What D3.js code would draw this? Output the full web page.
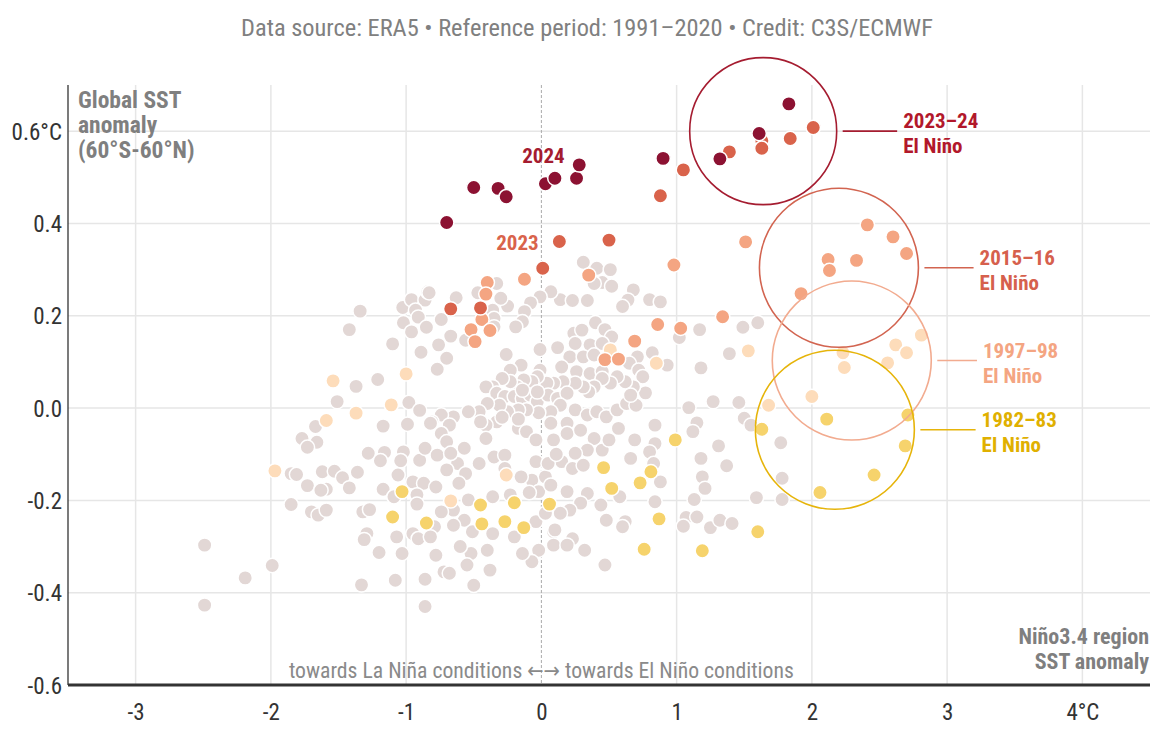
<!DOCTYPE html>
<html><head><meta charset="utf-8">
<script src="https://cdn.jsdelivr.net/npm/d3@7"></script>
<style>
body{margin:0;background:#fff;}
text{font-family:"Roboto Condensed","Liberation Sans Narrow","DejaVu Sans Condensed",sans-serif;}
</style></head><body>
<svg id="c" width="1174" height="741"></svg>
<script>
const xTicks=[-3,-2,-1,0,1,2,3,4];
const xTickLabels=["-3","-2","-1","0","1","2","3","4°C"];
const yTicks=[-0.6,-0.4,-0.2,0,0.2,0.4,0.6];
const yTickLabels=["-0.6","-0.4","-0.2","0.0","0.2","0.4","0.6°C"];

const pointsOther=[
[-1.34,0.21],[-1.42,0.17],[-1.10,0.139],[-1.025,0.218],[-0.96,0.235],[-0.86,0.234],[-0.84,0.252],[-0.93,0.212],[-0.91,0.197],[-1.02,0.185],[-0.96,0.165],[-0.85,0.175],[-0.89,0.121],[-1.21,0.062],[-1.37,0.047],[-1.51,0.014],[-0.98,0.012],[-0.90,-0.005],[-1.67,-0.04],[-1.17,-0.039],[-0.99,-0.035],
[-1.77,-0.066],[-1.66,-0.074],[-1.73,-0.085],[-1.28,-0.098],[-1.16,-0.096],[-1.19,-0.114],[-1.02,-0.095],[-1.04,-0.114],[-0.90,-0.113],[-0.86,-0.087],[-1.85,-0.142],[-1.81,-0.144],[-1.62,-0.138],[-1.53,-0.137],[-1.47,-0.151],[-1.36,-0.139],[-1.73,-0.168],[-1.59,-0.176],[-1.63,-0.178],[-1.42,-0.173],[-1.06,-0.145],[-0.95,-0.16],[-0.87,-0.163],[-1.17,-0.176],[-1.09,-0.192],[-0.92,-0.188],[-0.92,-0.208],[-1.85,-0.209],[-1.70,-0.225],[-1.65,-0.232],[-1.59,-0.221],[-1.32,-0.225],[-1.27,-0.22],[-1.29,-0.272],[-1.31,-0.285],[-1.07,-0.279],[-0.95,-0.272],[-0.91,-0.283],[-1.20,-0.313],[-1.03,-0.315],[-2.49,-0.297],[-1.99,-0.341],[-2.19,-0.368],[-1.33,-0.383],[-1.08,-0.373],[-0.86,-0.371],[-2.49,-0.427],[-0.86,-0.43],
[0.31,0.316],[0.41,0.303],[0.51,0.30],[0.45,0.272],[0.52,0.264],[0.39,0.27],[0.68,0.256],[0.64,0.234],[0.60,0.22],[0.80,0.235],[0.88,0.23],[0.14,0.235],[0.23,0.233],[0.34,0.233],[0.07,0.252],[-0.01,0.241],[-0.08,0.228],[-0.125,0.209],[-0.14,0.187],[-0.19,0.176],[-0.25,0.221],[-0.33,0.27],[-0.30,0.238],[-0.47,0.25],[-0.36,0.212],[-0.35,0.194],[-0.35,0.176],[-0.63,0.239],[-0.83,0.25],[-0.74,0.192],[-0.67,0.156],[-0.76,0.137],[-0.70,0.108],[-0.77,0.084],[-0.56,0.147],[-0.26,0.116],[-0.15,0.093],[-0.23,0.082],[-0.01,0.127],[-0.01,0.082],[0.12,0.131],[0.24,0.162],[0.30,0.169],[0.40,0.185],[0.47,0.17],[0.52,0.154],[0.25,0.14],[0.36,0.137],[0.45,0.14],[0.21,0.111],[0.31,0.111],[0.39,0.115],[0.15,0.089],[0.26,0.079],[0.36,0.075],[0.45,0.079],[0.82,0.12],[0.71,0.111],[0.93,0.093],[0.65,0.097],[0.72,0.082],[0.75,0.068],[0.77,0.033],[0.68,0.046],[0.62,0.057],[0.56,0.068],[0.51,0.054],[0.45,0.064],[0.39,0.046],[0.35,0.035],[0.31,0.046],[0.25,0.054],[0.16,0.057],[0.09,0.054],[0.04,0.054],[-0.03,0.068],[-0.07,0.057],[-0.13,0.061],[-0.18,0.046],[-0.23,0.057],[-0.29,0.064],[-0.36,0.046],[-0.41,0.046],[-0.33,0.032],[-0.27,0.025],[-0.20,0.025],[-0.14,0.021],[-0.08,0.028],[-0.03,0.014],[0.05,0.028],[0.12,0.021],[0.19,0.032],[0.14,0.006],[0.07,-0.008],[-0.02,-0.01],[-0.11,-0.004],[-0.17,-0.004],[-0.25,-0.008],[-0.31,0.006],[-0.40,0.01],[-0.46,-0.008],[-0.54,-0.008],[-0.65,-0.019],[-0.74,-0.015],[-0.81,-0.03],[0.25,-0.004],[0.34,-0.015],[0.41,-0.008],[0.48,-0.019],[0.56,-0.004],[0.63,0.01],[0.70,0.006],[0.84,-0.037],[0.19,-0.033],[0.07,-0.033],[-0.33,-0.03],[-0.41,-0.037],
[-0.82,-0.033],[-0.68,-0.037],[-0.17,-0.044],[-0.11,-0.051],[-0.04,-0.069],[-0.74,-0.055],[-0.70,-0.073],[-0.77,-0.102],[-0.57,-0.087],[-0.62,-0.12],[-0.70,-0.134],[-0.41,-0.066],[-0.35,-0.106],[-0.27,-0.102],[-0.27,-0.131],[-0.46,-0.12],[-0.56,-0.142],[-0.61,-0.163],[-0.78,-0.171],[-0.04,-0.116],[-0.07,-0.156],[-0.15,-0.149],[0.03,-0.149],[-0.02,-0.181],[-0.09,-0.183],[-0.23,-0.188],[-0.36,-0.192],[-0.54,-0.199],[-0.65,-0.221],[-0.74,-0.225],[-0.57,-0.243],[-0.65,-0.254],[-0.79,-0.257],[-0.82,-0.279],[-0.51,-0.268],[-0.36,-0.272],[-0.20,-0.279],[-0.04,-0.246],[0.03,-0.228],[0.09,-0.268],[0.09,-0.297],[-0.02,-0.308],[-0.07,-0.333],[-0.14,-0.315],[-0.40,-0.308],[-0.52,-0.315],[-0.60,-0.30],[-0.78,-0.319],[-0.72,-0.355],[-0.68,-0.358],[-0.38,-0.351],[-0.55,-0.34],[-0.50,-0.384],[0.09,-0.069],[0.19,-0.055],[0.29,-0.048],[0.39,-0.066],[0.45,-0.091],[0.34,-0.091],[0.25,-0.098],[0.15,-0.116],[0.23,-0.131],[0.05,-0.12],[0.07,-0.167],[0.19,-0.181],[0.34,-0.185],[0.29,-0.206],[0.21,-0.221],[0.14,-0.228],[0.44,-0.21],[0.48,-0.243],[0.58,-0.192],[0.62,-0.246],[0.60,-0.257],[0.23,-0.283],[0.19,-0.297],[0.32,-0.308],[0.10,-0.264],[0.47,-0.34],[0.57,-0.044],[0.69,-0.069],[0.84,-0.077],[0.80,-0.095],[0.88,-0.16],[0.84,-0.203],
[1.17,0.17],[1.49,0.175],[1.60,0.185],[1.02,0.153],[1.39,0.118],[1.18,0.087],[1.09,0.001],[1.27,0.014],[1.46,0.012],[1.15,-0.032],[1.50,-0.022],[1.55,-0.037],[1.12,-0.051],[1.31,-0.082],[1.77,-0.075],[1.18,-0.109],[1.37,-0.125],[1.19,-0.149],[1.21,-0.174],[1.78,-0.152],[0.83,-0.12],[1.13,-0.198],[1.59,-0.194],[1.78,-0.198],[1.07,-0.237],[1.15,-0.236],[1.05,-0.256],[1.25,-0.259],[1.32,-0.243],[1.41,-0.25],
[-0.14,0.039],[-0.03,0.035],[-0.17,-0.024],[-0.29,-0.02],[-0.45,-0.03],[-0.67,-0.098],[0.11,-0.10],[0.50,-0.069],[0.31,-0.124],[0.66,-0.109],[0.66,0.028]
];
const points1997=[[-1.54,0.059],[-1.00,0.074],[-1.11,0.007],[-1.37,-0.011],[-1.59,-0.027],[-1.97,-0.136],[-0.67,-0.201],[-0.26,-0.145],[0.85,0.097],[0.51,0.126],[1.53,0.124],[2.23,0.12],[2.24,0.088],[2.56,0.098],[2.62,0.137],[2.00,0.025],[1.68,0.006],[2.81,0.158],[2.70,0.12]];
const points1982=[[-1.03,-0.181],[-1.10,-0.236],[-0.85,-0.249],[0.46,-0.129],[0.52,-0.174],[0.73,-0.162],[0.81,-0.138],[0.87,-0.24],[0.76,-0.306],[0.06,-0.208],[-0.20,-0.205],[-0.45,-0.21],[-0.44,-0.251],[-0.27,-0.246],[-0.13,-0.259],[2.11,-0.024],[2.71,-0.015],[2.69,-0.082],[1.63,-0.046],[2.46,-0.145],[2.06,-0.183],[1.60,-0.268],[1.19,-0.309],[0.99,-0.069]];
const points2015=[[-0.125,0.279],[-0.40,0.272],[-0.41,0.247],[-0.44,0.192],[-0.52,0.17],[-0.38,0.168],[-0.49,0.144],[0.35,0.288],[0.86,0.181],[0.69,0.145],[0.47,0.105],[0.57,0.106],[0.98,0.31],[1.51,0.36],[2.12,0.322],[2.33,0.32],[2.13,0.298],[1.92,0.248],[1.34,0.198],[1.03,0.173],[2.60,0.371],[2.41,0.397],[2.70,0.335]];
const points2023=[[0.133,0.361],[0.50,0.364],[0.01,0.303],[-0.67,0.215],[-0.45,0.217],[1.05,0.516],[0.88,0.46],[1.39,0.555],[1.63,0.579],[1.63,0.563],[1.84,0.584],[2.01,0.608]];
const points2024=[[-0.70,0.402],[-0.50,0.478],[-0.32,0.476],[-0.26,0.458],[0.03,0.486],[0.10,0.498],[0.26,0.498],[0.28,0.527],[0.90,0.541],[1.32,0.540],[1.61,0.595],[1.83,0.659]];

const eventNames=["2023–24","2015–16","1997–98","1982–83"];
const eventCenters=[[1.64,0.60],[2.20,0.304],[2.295,0.103],[2.17,-0.047]];
const eventRadiusPx=[73.5,79.5,79.5,79.5];
const eventColors=["#a51c30","#d26450","#f2ab8f","#e6b40a"];
const eventLabelColors=["#b2182b","#d6604d","#f4a582","#e0b000"];
const eventLabelX=[2.675,3.24,3.265,3.255];

const FONT='"Roboto Condensed","Liberation Sans Narrow","DejaVu Sans Condensed",sans-serif';
const svg=d3.select("#c");
const L=68,R=1150,T=85,B=685;
const x=d3.scaleLinear().domain([-3.5,4.5]).range([L,R]);
const y=d3.scaleLinear().domain([-0.6,0.7]).range([B,T]);

svg.append("text").attr("x",587).attr("y",36).attr("text-anchor","middle")
  .attr("fill","#808080").attr("font-size",24.4).text("Data source: ERA5 • Reference period: 1991–2020 • Credit: C3S/ECMWF");

// grid
const g=svg.append("g");
g.selectAll(".vg").data(xTicks.filter(d=>d!==0)).join("line")
  .attr("x1",d=>x(d)).attr("x2",d=>x(d)).attr("y1",T).attr("y2",B)
  .attr("stroke","#e6e6e6").attr("stroke-width",1.5);
g.selectAll(".hg").data(yTicks.filter(d=>d>-0.6)).join("line")
  .attr("x1",L).attr("x2",R).attr("y1",d=>y(d)).attr("y2",d=>y(d))
  .attr("stroke","#e6e6e6").attr("stroke-width",1.5);
g.append("line").attr("x1",x(0)).attr("x2",x(0)).attr("y1",T).attr("y2",B)
  .attr("stroke","#aaa").attr("stroke-width",1).attr("stroke-dasharray","3,2");

// axes
const xAxis=d3.axisBottom(x).tickValues(xTicks).tickSize(0).tickFormat((d,i)=>xTickLabels[i]);
const ax=svg.append("g").attr("transform",`translate(0,${B})`).call(xAxis);
ax.select(".domain").remove();
ax.selectAll("text").attr("font-size",23).attr("fill","#333").attr("dy",0).attr("y",35).style("font-family",FONT);
const yAxis=d3.axisLeft(y).tickValues(yTicks).tickSize(0).tickFormat((d,i)=>yTickLabels[i]);
const ay=svg.append("g").attr("transform",`translate(${L},0)`).call(yAxis);
ay.select(".domain").remove();
ay.selectAll("text").attr("font-size",23).attr("fill","#333").attr("x",-6).attr("dy","0.35em").style("font-family",FONT);
svg.append("line").attr("x1",L).attr("x2",L).attr("y1",T).attr("y2",B).attr("stroke","#222").attr("stroke-width",1.2);
svg.append("line").attr("x1",L).attr("x2",R).attr("y1",B).attr("y2",B).attr("stroke","#333").attr("stroke-width",3);

// axis titles
const yt=svg.append("text").attr("fill","#7f7f7f").attr("font-size",23.5).attr("font-weight","bold");
["Global SST","anomaly","(60°S-60°N)"].forEach((t,i)=>yt.append("tspan").attr("x",78).attr("y",108+i*25).text(t));
const xt=svg.append("text").attr("text-anchor","end").attr("fill","#7f7f7f").attr("font-size",22).attr("font-weight","bold");
["Niño3.4 region","SST anomaly"].forEach((t,i)=>xt.append("tspan").attr("x",1149).attr("y",644+i*25).text(t));
svg.append("text").attr("x",x(0)).attr("y",678).attr("text-anchor","middle").attr("fill","#8a8a8a").attr("font-size",21.7)
  .text("towards La Niña conditions ←→ towards El Niño conditions");

// points
const series=[
 {d:pointsOther,c:"#e2d7d5"},
 {d:points1997,c:"#fddcba"},
 {d:points1982,c:"#f6d36c"},
 {d:points2015,c:"#f4a582"},
 {d:points2023,c:"#d9634b"},
 {d:points2024,c:"#8c1232"}
];
series.forEach(s=>{
  svg.append("g").selectAll("circle").data(s.d).join("circle")
   .attr("cx",d=>x(d[0])).attr("cy",d=>y(d[1])).attr("r",7.2)
   .attr("fill",s.c).attr("stroke","#fff").attr("stroke-width",1.5);
});

// year labels
svg.append("text").attr("x",x(0.015)).attr("y",y(0.531)).attr("text-anchor","middle").attr("fill","#a51c30")
  .attr("font-size",21).attr("font-weight","bold").text("2024");
svg.append("text").attr("x",x(-0.02)).attr("y",y(0.342)).attr("text-anchor","end").attr("fill","#d9634b")
  .attr("font-size",21).attr("font-weight","bold").text("2023");

// event circles & labels
eventNames.forEach((n,i)=>{
  const cx=x(eventCenters[i][0]), cy=y(eventCenters[i][1]), r=eventRadiusPx[i];
  svg.append("circle").attr("cx",cx).attr("cy",cy).attr("r",r).attr("fill","none")
    .attr("stroke",eventColors[i]).attr("stroke-width",1.6);
  const lx=x(eventLabelX[i]);
  svg.append("line").attr("x1",cx+r+6).attr("x2",lx-6).attr("y1",cy).attr("y2",cy)
    .attr("stroke",eventColors[i]).attr("stroke-width",1.6);
  const t=svg.append("text").attr("fill",eventLabelColors[i]).attr("font-size",21).attr("font-weight","bold");
  t.append("tspan").attr("x",lx).attr("y",cy-3).text(n);
  t.append("tspan").attr("x",lx).attr("y",cy+22).text("El Niño");
});
</script></body></html>
